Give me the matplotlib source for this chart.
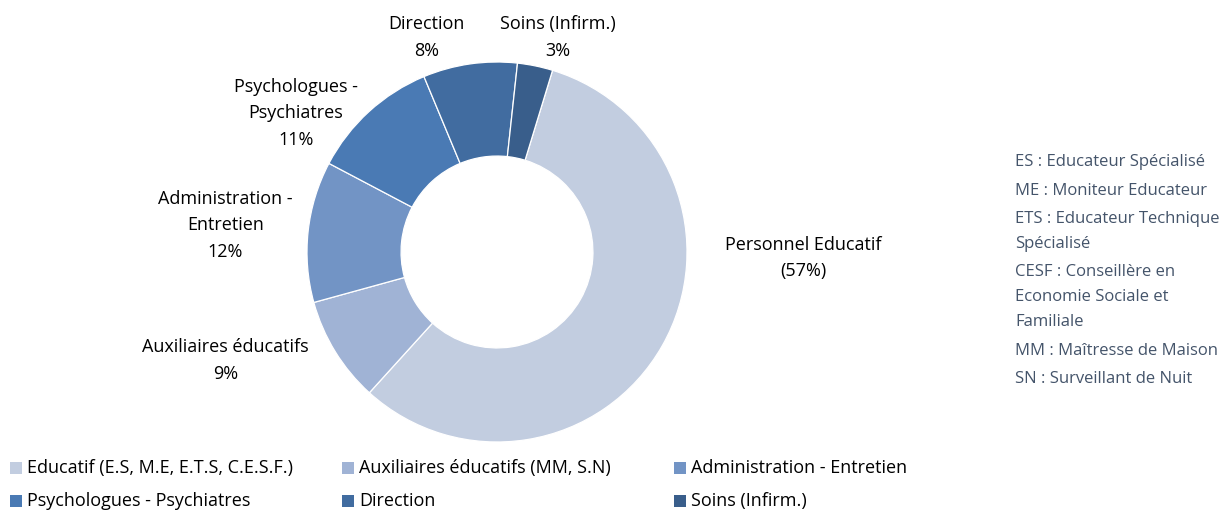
import matplotlib.pyplot as plt
from matplotlib.patches import Rectangle

plt.rcParams['font.family'] = ['Open Sans', 'DejaVu Sans']

# Data
categories = ['Educatif (E.S, M.E, E.T.S, C.E.S.F.)', 'Auxiliaires éducatifs (MM, S.N)',
              'Administration - Entretien', 'Psychologues - Psychiatres',
              'Direction', 'Soins (Infirm.)']
values = [57, 9, 12, 11, 8, 3]
slice_labels = ['Personnel Educatif\n(57%)', 'Auxiliaires éducatifs\n9%',
                'Administration -\nEntretien\n12%', 'Psychologues -\nPsychiatres\n11%',
                'Direction\n8%', 'Soins (Infirm.)\n3%']
colors = ['#c2cde0', '#a0b3d5', '#7294c5', '#4a7ab4', '#416ca0', '#395e8b']

notes = ['ES : Educateur Spécialisé', 'ME : Moniteur Educateur',
         'ETS : Educateur Technique', 'Spécialisé', 'CESF : Conseillère en',
         'Economie Sociale et', 'Familiale', 'MM : Maîtresse de Maison',
         'SN : Surveillant de Nuit']
note_y = [162, 191, 219, 244, 272, 297, 322, 351, 379]

W, H = 1227, 511
fig = plt.figure(figsize=(W / 100, H / 100), dpi=100)

# pie axes: centre (497, 252) px, radius 190 px
cx, cy, r = 497, 252, 190
ax = fig.add_axes([(cx - r) / W, (H - cy - r) / H, 2 * r / W, 2 * r / H])

ax.pie(values, colors=colors, startangle=73, counterclock=False, radius=1,
       wedgeprops=dict(width=0.495, edgecolor='white', linewidth=0.9))
ax.set_xlim(-1, 1)
ax.set_ylim(-1, 1)
ax.set_aspect('equal')
ax.axis('off')

# label positions (data coords relative to pie)
label_pos = [(1.61, -0.03), (-1.43, -0.57), (-1.43, 0.14), (-1.06, 0.73),
             (-0.37, 1.13), (0.32, 1.13)]
for lab, (x, y) in zip(slice_labels, label_pos):
    ax.text(x, y, lab, ha='center', va='center', fontsize=13,
            color='black', linespacing=1.6)

# legend at bottom, drawn by hand
for i, (cat, col) in enumerate(zip(categories, colors)):
    px = 10 + 332 * (i % 3)
    py = 468 + 33 * (i // 3)
    fig.patches.append(Rectangle((px / W, (H - py - 6) / H), 12 / W, 12 / H,
                                 transform=fig.transFigure, facecolor=col,
                                 edgecolor='none'))
    fig.text((px + 17) / W, (H - py) / H, cat, ha='left', va='center',
             fontsize=13, color='black')

# right-hand notes
for line, y in zip(notes, note_y):
    fig.text(1015 / W, (H - y) / H, line, ha='left', va='center',
             fontsize=12, color='#44546a')

fig.savefig('out.png', dpi=100)
